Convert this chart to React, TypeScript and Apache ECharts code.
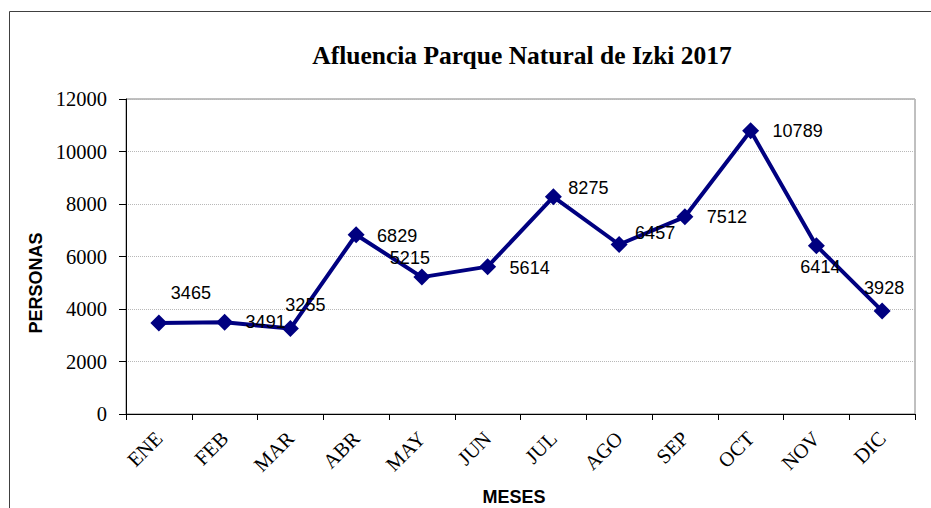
import React, { useEffect, useRef } from "react";
import * as echarts from "echarts";

const months = ["ENE", "FEB", "MAR", "ABR", "MAY", "JUN", "JUL", "AGO", "SEP", "OCT", "NOV", "DIC"];
const visitors = [3465, 3491, 3255, 6829, 5215, 5614, 8275, 6457, 7512, 10789, 6414, 3928];
const yTicks = { min: 0, max: 12000, interval: 2000 };
const titleText = "Afluencia Parque Natural de Izki 2017";
const yName = "PERSONAS";
const xName = "MESES";
// label offsets (style only) relative to each marker
const labelOffsets: [number, number][] = [
  [32, -30], [41, 0], [15, -24], [41, 1], [-12, -19], [42, 1],
  [35, -9], [36, -12], [42, 0], [47, 0], [4, 21], [2, -23],
];

const SERIF = "'Liberation Serif', 'Times New Roman', serif";
const SANS = "'Liberation Sans', Arial, sans-serif";

export default function App() {
  const ref = useRef<HTMLDivElement>(null);
  useEffect(() => {
    if (!ref.current) return;
    const chart = echarts.init(ref.current, null, { renderer: "svg" });
    chart.setOption({
      animation: false,
      backgroundColor: "#ffffff",
      title: {
        text: titleText,
        left: 517,
        top: 37,
        textAlign: "center",
        textStyle: { fontFamily: SERIF, fontWeight: "bold", fontSize: 25.5, color: "#000" },
      },
      grid: {
        left: 126,
        top: 99,
        right: 16,
        bottom: 94,
        show: true,
        borderColor: "#808080",
        borderWidth: 1,
        backgroundColor: "transparent",
      },
      xAxis: {
        type: "category",
        data: months,
        boundaryGap: true,
        axisLine: { lineStyle: { color: "#000", width: 1 } },
        axisTick: { show: true, alignWithLabel: false, length: 6, lineStyle: { color: "#000" } },
        axisLabel: {
          rotate: 45,
          margin: 21,
          interval: 0,
          fontFamily: SERIF,
          fontSize: 20.5,
          color: "#000",
        },
        splitLine: { show: false },
      },
      yAxis: {
        type: "value",
        min: yTicks.min,
        max: yTicks.max,
        interval: yTicks.interval,
        axisLine: { show: true, lineStyle: { color: "#000", width: 1 } },
        axisTick: { show: true, length: 7, lineStyle: { color: "#000" } },
        axisLabel: {
          margin: 19,
          fontFamily: SERIF,
          fontSize: 20.5,
          color: "#000",
          formatter: (v: number) => String(v),
        },
        splitLine: { show: true, lineStyle: { color: "#b8b8b8", type: "dotted", width: 1 } },
      },
      graphic: [
        {
          type: "rect",
          shape: { x: 9.5, y: 11.5, width: 960, height: 560 },
          style: { fill: "none", stroke: "#404040", lineWidth: 1 },
          silent: true,
          z: -1,
        },
        {
          type: "text",
          x: 36,
          y: 283,
          rotation: Math.PI / 2,
          style: {
            text: yName,
            fontFamily: SANS,
            fontWeight: "bold",
            fontSize: 18,
            fill: "#000",
            align: "center",
            verticalAlign: "middle",
          },
        },
        {
          type: "text",
          x: 514,
          y: 497,
          style: {
            text: xName,
            fontFamily: SANS,
            fontWeight: "bold",
            fontSize: 18,
            fill: "#000",
            align: "center",
            verticalAlign: "middle",
          },
        },
      ],
      series: [
        {
          type: "line",
          data: visitors.map((v, i) => ({
            value: v,
            label: { offset: labelOffsets[i] },
          })),
          symbol: "diamond",
          symbolSize: 17,
          itemStyle: { color: "#000080" },
          lineStyle: { color: "#000080", width: 4 },
          label: {
            show: true,
            position: "inside",
            fontFamily: SANS,
            fontSize: 18,
            color: "#000",
          },
          z: 3,
        },
      ],
    });
    return () => chart.dispose();
  }, []);
  return (
    <div
      ref={ref}
      style={{ position: "fixed", left: 0, top: 0, width: 931, height: 508, background: "#fff" }}
    />
  );
}
